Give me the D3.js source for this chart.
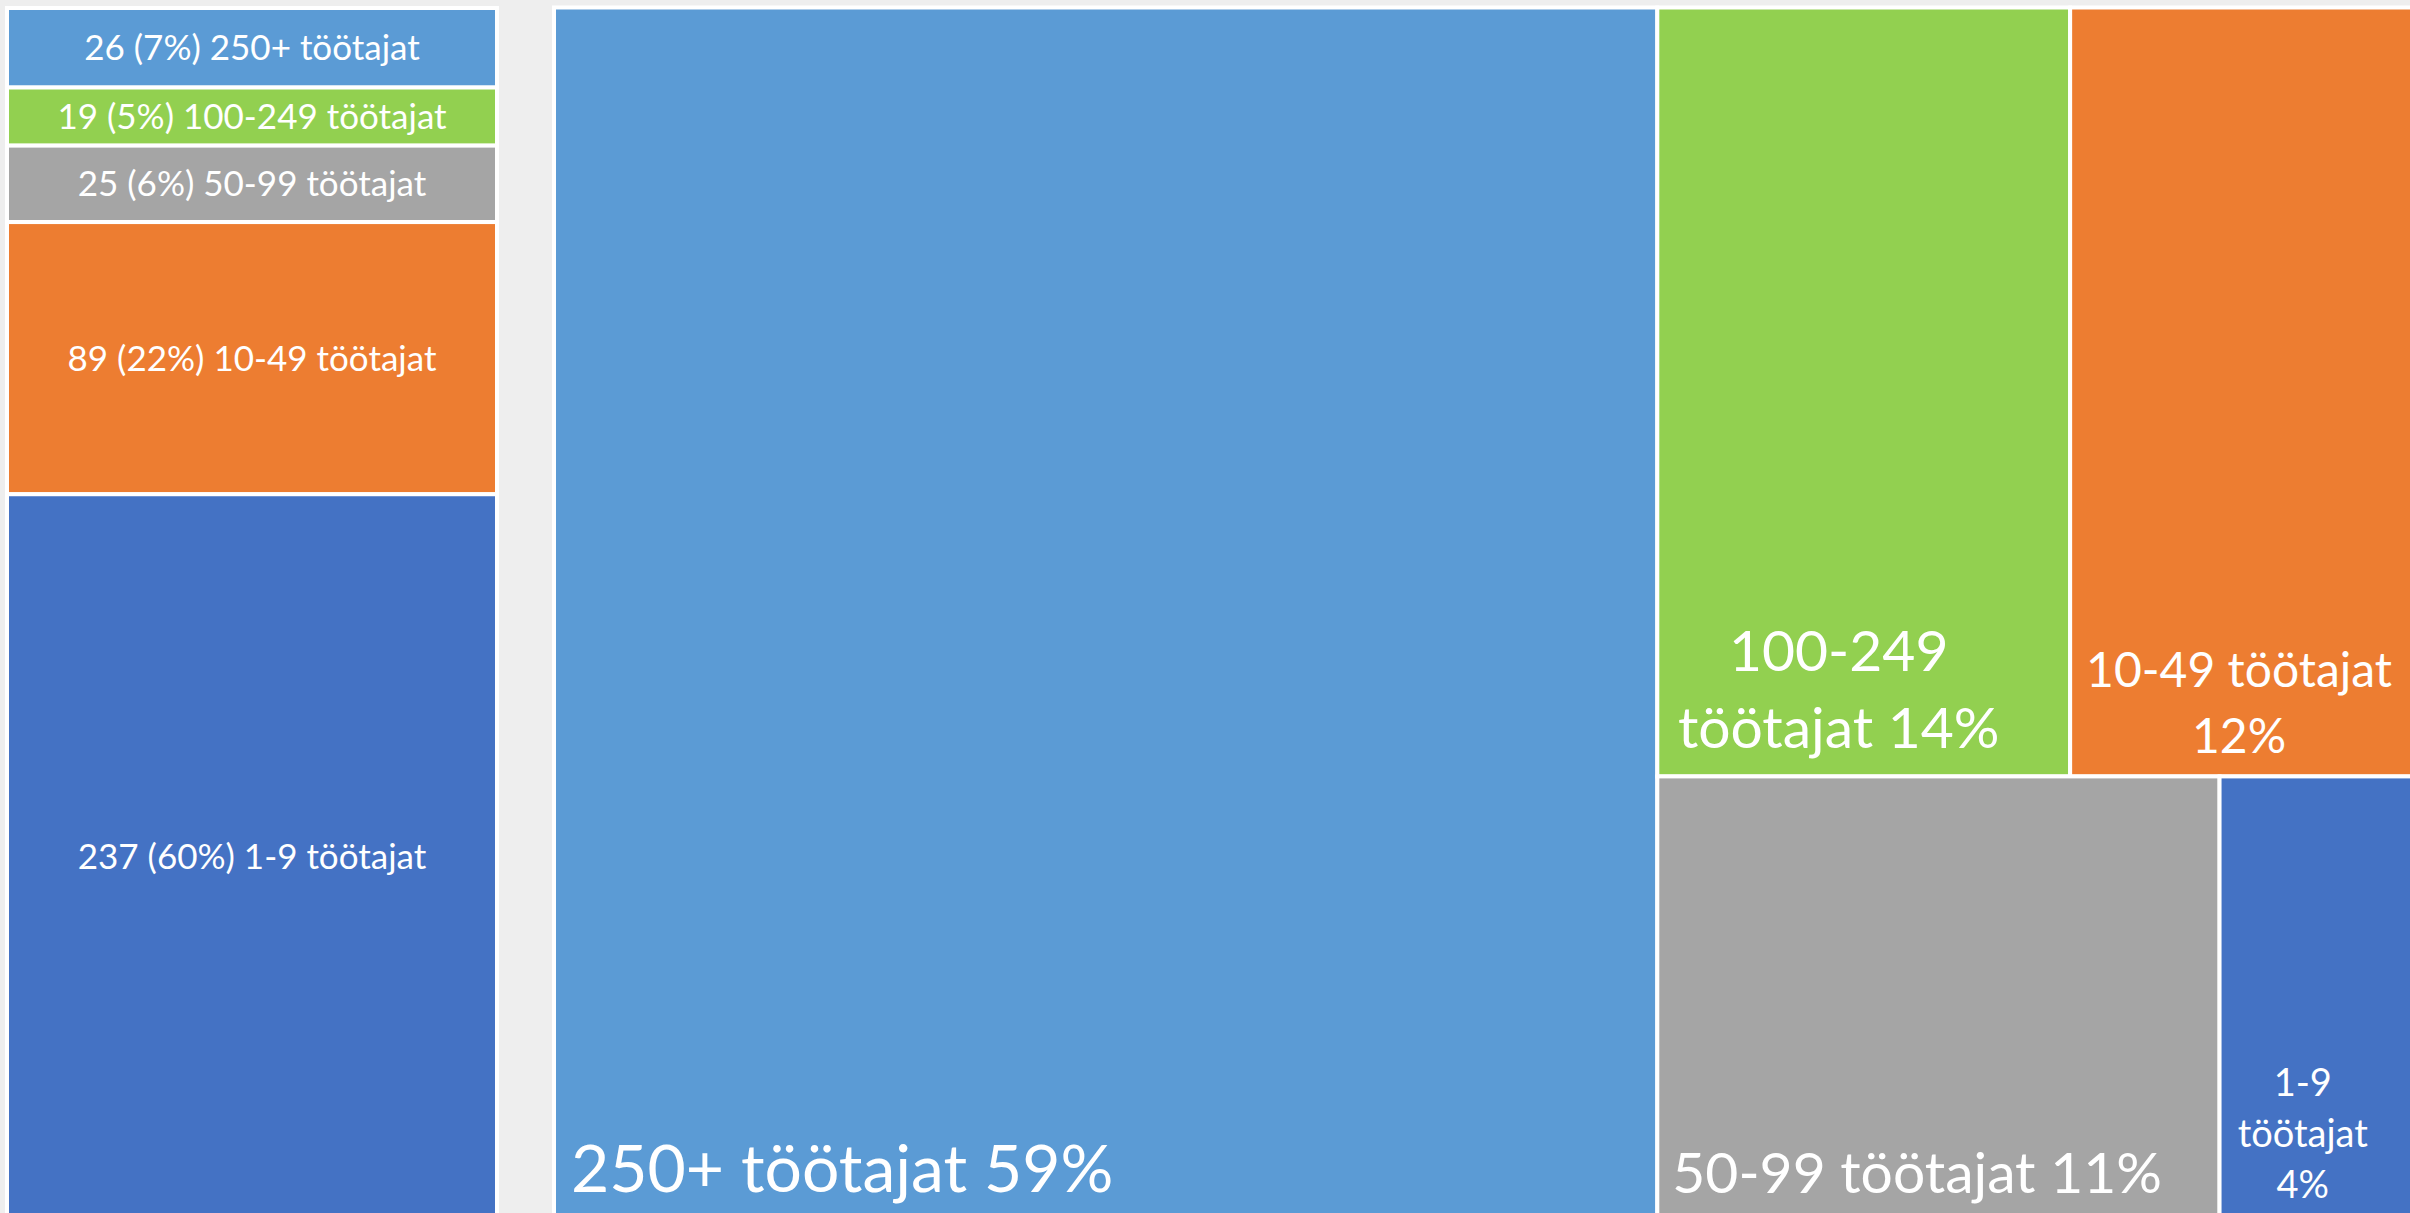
<!DOCTYPE html>
<html>
<head>
<meta charset="utf-8">
<script src="https://cdn.jsdelivr.net/npm/d3@7"></script>
<style>
  body { margin: 0; background: #eeeeee; }
  svg { display: block; }
  text { font-family: Lato, "Open Sans", sans-serif; fill: #ffffff; }
</style>
</head>
<body>
<div id="chart"></div>
<script>
// ettevotted suurusklassi kaupa
const sizeClasses = ["250+ töötajat", "100-249 töötajat", "50-99 töötajat", "10-49 töötajat", "1-9 töötajat"];
const firmCounts = [26, 19, 25, 89, 237];
const firmPercents = [7, 5, 6, 22, 60];
const workerPercents = [59, 14, 11, 12, 4];
const classColors = ["#5b9bd5", "#92d050", "#a5a5a5", "#ed7d31", "#4472c4"];

// treemap grouping (indexes into sizeClasses)
const treeNesting = [[0], [[1, 3], [2, 4]]];

// label layout for the treemap cells
const treeLabelStyle = [
  {size: 66, align: "start",  dx: 17,  pad: 28, lh: 0,  breaks: [3]},
  {size: 57, align: "middle", dx: -25, pad: 28, lh: 77, breaks: [1, 2]},
  {size: 57, align: "start",  dx: 15,  pad: 27, lh: 0,  breaks: [3]},
  {size: 48, align: "middle", dx: -8,  pad: 23, lh: 66, breaks: [2, 1]},
  {size: 38, align: "middle", dx: -19, pad: 22, lh: 51, breaks: [1, 1, 1]}
];

const width = 2410, height = 1213;
const svg = d3.select("#chart").append("svg")
  .attr("width", width)
  .attr("height", height);

// left: stacked blocks of firm counts
const left = {x0: 7, x1: 497, y0: 8, y1: 1219};
const y = d3.scaleLinear()
  .domain([0, d3.sum(firmCounts)])
  .range([left.y0, left.y1]);

let cum = 0;
const stack = firmCounts.map((v, i) => {
  const s = {i: i, start: cum, end: cum + v};
  cum += v;
  return s;
});

const lg = svg.append("g");
lg.selectAll("rect")
  .data(stack)
  .enter()
  .append("rect")
    .attr("x", left.x0)
    .attr("width", left.x1 - left.x0)
    .attr("y", d => y(d.start))
    .attr("height", d => y(d.end) - y(d.start))
    .attr("fill", d => classColors[d.i])
    .attr("stroke", "#ffffff")
    .attr("stroke-width", 4);

lg.selectAll("text")
  .data(stack)
  .enter()
  .append("text")
    .attr("x", (left.x0 + left.x1) / 2)
    .attr("y", d => (y(d.start) + y(d.end)) / 2)
    .attr("dy", "0.36em")
    .attr("text-anchor", "middle")
    .style("font-size", "35px")
    .text(d => firmCounts[d.i] + " (" + firmPercents[d.i] + "%) " + sizeClasses[d.i]);

// right: treemap of worker shares
function build(g) {
  if (Array.isArray(g)) return {children: g.map(build)};
  return {i: g, value: workerPercents[g]};
}
const root = d3.hierarchy(build(treeNesting)).sum(d => d.value || 0);
d3.treemap()
  .tile(d3.treemapSliceDice)
  .size([1870, 1212.5])(root);

const tg = svg.append("g").attr("transform", "translate(554,7.5)");
const leaves = root.leaves();

tg.selectAll("rect")
  .data(leaves)
  .enter()
  .append("rect")
    .attr("x", d => d.x0)
    .attr("y", d => d.y0)
    .attr("width", d => d.x1 - d.x0)
    .attr("height", d => d.y1 - d.y0)
    .attr("fill", d => classColors[d.data.i])
    .attr("stroke", "#ffffff")
    .attr("stroke-width", 4);

leaves.forEach(d => {
  const st = treeLabelStyle[d.data.i];
  const words = (sizeClasses[d.data.i] + " " + workerPercents[d.data.i] + "%").split(" ");
  const lines = [];
  let k = 0;
  st.breaks.forEach(n => { lines.push(words.slice(k, k + n).join(" ")); k += n; });
  const x = st.align == "start" ? d.x0 + st.dx : (d.x0 + d.x1) / 2 + st.dx;
  const lastBase = d.y1 - st.pad;
  const t = tg.append("text")
    .attr("text-anchor", st.align)
    .style("font-size", st.size + "px");
  lines.forEach((ln, j) => {
    t.append("tspan")
      .attr("x", x)
      .attr("y", lastBase - (lines.length - 1 - j) * st.lh)
      .text(ln);
  });
});
</script>
</body>
</html>
